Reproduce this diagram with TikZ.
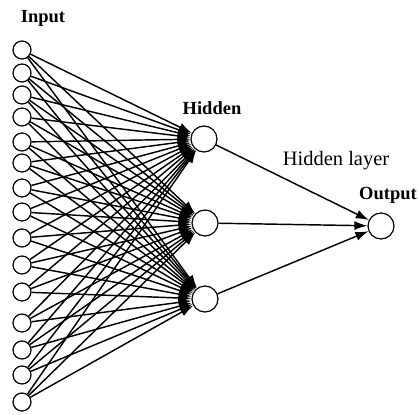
\documentclass[tikz,border=0pt]{standalone}
\usepackage{fontspec}
\setmainfont{Liberation Serif}
\usetikzlibrary{arrows.meta}

\tikzset{
	neuron/.style={draw, circle, line width=1.2pt, inner sep=0pt, minimum size=18pt},
	bigneuron/.style={neuron, minimum size=26pt},
	link/.style={line width=1.45pt, -{Latex[length=13pt,width=9pt]}},
	layertitle/.style={font=\bfseries\fontsize{18.5}{20}\selectfont}
}

\begin{document}
\begin{tikzpicture}[x=1pt,y=-1pt]
			%%%%% START %%%%%
			\useasboundingbox (0,0) rectangle (419,414);
			
			% input layer
			\foreach \y [count=\i] in {50,73,95,117,142,163,188,212,238,265,292,323,350,375,402}
				\node[neuron] (in\i) at (22, \y) {};
			
			% hidden layer
			\node[bigneuron] (h1) at (204, 139) {};
			\node[bigneuron] (h2) at (205, 223) {};
			\node[bigneuron] (h3) at (205, 299) {};
			
			% output
			\node[bigneuron] (out) at (381, 226) {};
			
			\foreach \i in {1,...,15}
				\foreach \j in {1,2,3}
					\draw[link] (in\i) -- (h\j);
			\foreach \j in {1,2,3}
				\draw[link] (h\j) -- (out);
			
			\node[layertitle] (inlabel) at (43, 18) {Input};
			\node[layertitle] (hidlabel) at (212, 108) {Hidden};
			\node[layertitle] (outlabel) at (388, 195) {Output};
			\node[font=\fontsize{20.5}{22}\selectfont] (hidtext) at (336, 161) {Hidden layer};
			
			%%%%% END %%%%%
\end{tikzpicture}
\end{document}
